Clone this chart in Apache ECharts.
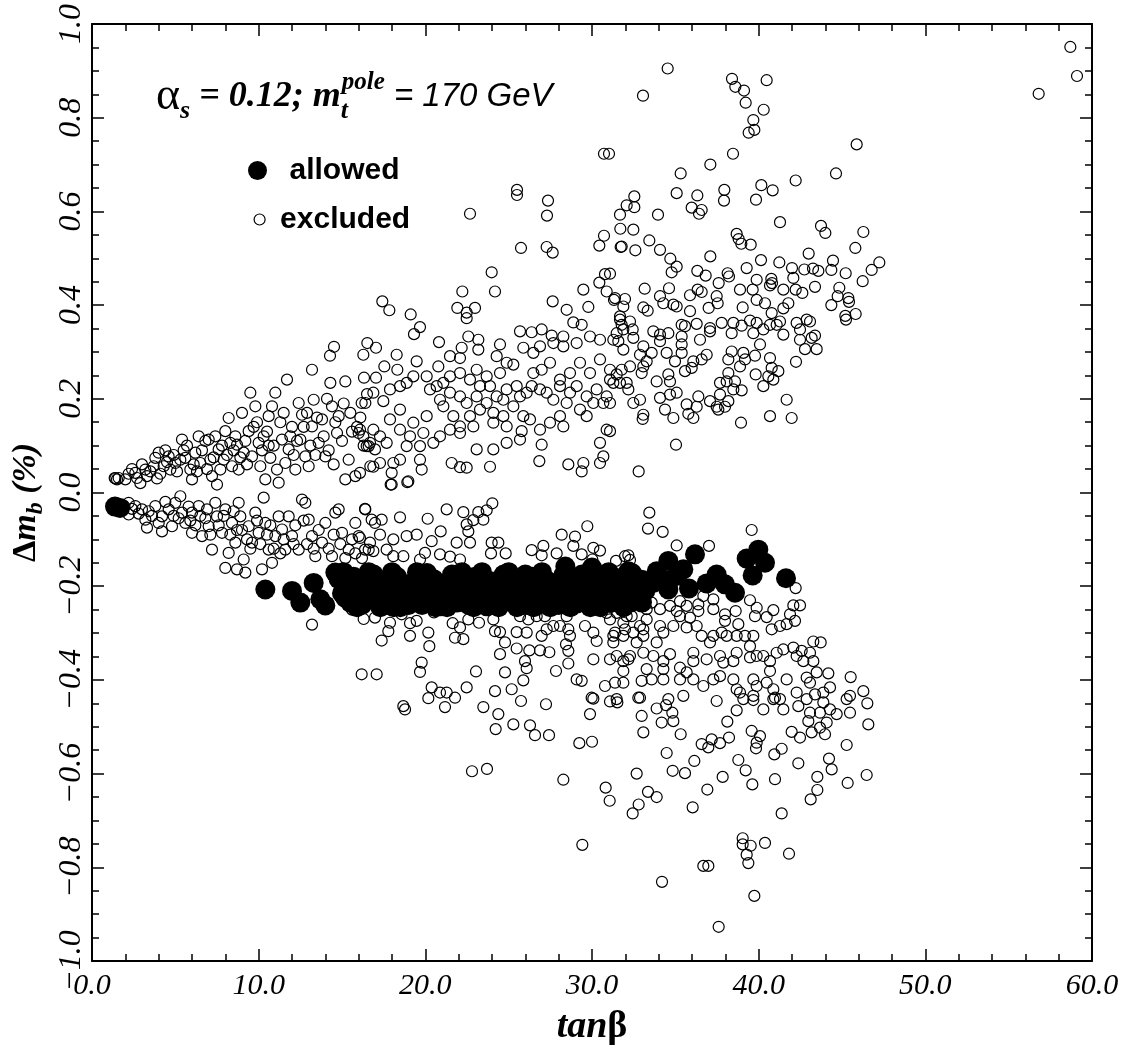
<!DOCTYPE html>
<html><head><meta charset="utf-8">
<script src="https://cdn.jsdelivr.net/npm/echarts/dist/echarts.min.js"></script>
<style>html,body{margin:0;padding:0;background:#fff}#c{width:1126px;height:1051px}</style>
</head><body><div id="c"></div>
<script>
// ---- axis settings (values) ----
const xTicks = [0, 10, 20, 30, 40, 50, 60];
const yTicks = [-1.0, -0.8, -0.6, -0.4, -0.2, 0.0, 0.2, 0.4, 0.6, 0.8, 1.0];

// ---- excluded points: upper branch ----
const excludedUpperLeft = [
[1.36,0.031],[1.4,0.03],[1.5,0.028],[1.6,0.031],[2.0,0.028],[2.6,0.042],[2.7,0.031],[3.2,0.049],[3.3,0.035],[3.7,0.056],[3.8,0.074],[4.0,0.085],[4.3,0.056],[4.6,0.077],[4.7,0.049],[5.0,0.063],[5.3,0.070],[5.4,0.113],[5.6,0.074],[5.9,0.049],[6.0,0.028],[6.2,0.085],[6.4,0.120],[6.5,0.063],[7.0,0.113],[7.1,0.070],[7.2,0.035],[7.5,0.017],[7.6,0.092],[7.7,0.049],[7.9,0.070],[8.0,0.131],[8.2,0.159],[8.3,0.106],[8.4,0.056],[8.7,0.102],[8.8,0.049],[9.0,0.170],[9.1,0.085],[9.4,0.131],[9.5,0.213],[9.6,0.077],[9.8,0.184],[10.0,0.106],[10.1,0.056],[10.3,0.120],[10.4,0.028],[10.6,0.163],[10.7,0.074],[10.8,0.184],[11.0,0.213],[11.1,0.049],[11.2,0.021],[11.4,0.113],[11.6,0.063],[11.8,0.092],[12.2,0.049],[12.4,0.191],[12.5,0.113],[12.6,0.166],[12.8,0.077],[13.0,0.056],[13.2,0.141],[13.3,0.198],[13.6,0.106],[13.8,0.156],[14.0,0.077],[14.3,0.234],[14.4,0.184],[14.7,0.127],[14.8,0.163],[15.2,0.237],[15.2,0.028],[15.4,0.070],[15.8,0.035],[16.0,0.127],[16.4,0.191],[16.6,0.099],[16.7,0.056],
[2.2,0.04],[2.9,0.02],[3.5,0.045],[4.1,0.04],[4.5,0.065],[5.1,0.045],[5.5,0.09],[6.1,0.06],[6.6,0.09],[6.9,0.05],[7.3,0.075],[7.8,0.1],[8.1,0.08],[8.6,0.12],[8.9,0.075],[9.2,0.11],[9.7,0.14],[10.2,0.09],[10.5,0.13],[10.9,0.1],[11.3,0.15],[11.9,0.12],[12.1,0.08],[12.7,0.14],[13.1,0.1],[13.5,0.16],[13.9,0.12],[14.2,0.09],[14.6,0.15],[15.0,0.11],[15.5,0.17],[15.9,0.14],[16.3,0.1],
[2.4,0.05],[3.0,0.06],[3.9,0.03],[4.4,0.09],[4.9,0.08],[5.7,0.1],[6.3,0.045],[6.8,0.11],[7.4,0.12],[8.5,0.09],[9.3,0.06],[9.9,0.15],[10.6,0.1],[11.5,0.17],[12.0,0.14],[12.3,0.11],[12.9,0.17],[13.4,0.08],[14.1,0.2],[14.5,0.06],[15.1,0.19],[15.6,0.13],[16.1,0.16],[16.5,0.21],
[14.28,0.292],[14.52,0.311],[13.2,0.262],[11.7,0.241]
];
const excludedUpperMid = [
[25.74,0.522],[27.28,0.524],[27.64,0.512],[30.44,0.527],[30.72,0.548],[31.78,0.525],[23.98,0.470],[24.18,0.429],[22.22,0.429],[21.92,0.394],[22.48,0.384],[22.48,0.372],[22.98,0.394],[17.42,0.408],[17.84,0.389],[19.12,0.380],[19.68,0.353],[19.32,0.338],[20.82,0.321],[16.52,0.319],[17.04,0.309],[16.28,0.294],[18.28,0.294],[19.48,0.280],[17.54,0.269],[16.32,0.245],[17.04,0.245],[18.32,0.262],[18.88,0.234],[17.88,0.220],[16.88,0.213],[16.18,0.191],[17.48,0.195],[18.48,0.227],[19.28,0.248],[20.08,0.248],[20.78,0.269],[20.28,0.220],[20.88,0.198],[20.08,0.163],[19.28,0.149],[18.48,0.177],[17.88,0.156],[16.88,0.134],[16.28,0.120],[17.28,0.120],[16.48,0.099],[16.98,0.092],[17.68,0.106],[18.48,0.134],[19.08,0.120],[19.68,0.099],[18.08,0.063],[16.88,0.055],[17.98,0.042],[18.98,0.024],[17.98,0.017],[19.78,0.049],[19.68,0.070],
[25.68,0.344],[26.38,0.342],[26.98,0.348],[27.58,0.335],[28.28,0.333],[28.88,0.363],[29.38,0.358],[29.48,0.433],[29.78,0.396],[28.48,0.390],[27.64,0.408],[30.44,0.448],[30.78,0.466],[30.88,0.429],[31.32,0.411],[31.68,0.369],[31.88,0.348],[31.28,0.326],[30.48,0.326],[29.88,0.333],[29.08,0.319],[28.28,0.312],[27.68,0.319],[26.88,0.312],[26.48,0.298],[25.88,0.309],[24.48,0.316],[24.28,0.291],[24.88,0.277],[25.28,0.273],[24.48,0.255],[23.68,0.248],[23.08,0.262],[22.68,0.241],[22.08,0.255],[21.48,0.248],[21.08,0.234],[20.68,0.227],[21.48,0.291],[22.08,0.287],[22.58,0.333],[23.18,0.326],[23.18,0.305],[22.18,0.309],[23.28,0.227],[23.88,0.227],[24.28,0.205],[24.88,0.220],[25.48,0.227],[26.08,0.213],[26.48,0.255],[26.98,0.262],[27.48,0.277],[28.08,0.241],[28.68,0.255],[29.28,0.277],[29.88,0.255],[30.48,0.284],[31.08,0.262],[32.08,0.234],[31.28,0.234],[30.88,0.205],[30.28,0.220],[29.68,0.205],[29.08,0.227],[28.68,0.213],[28.08,0.227],[27.68,0.198],[27.28,0.213],[26.88,0.220],[26.38,0.227],[25.68,0.205],[25.28,0.184],[24.68,0.198],[24.08,0.170],[23.68,0.191],[23.08,0.205],[22.48,0.191],[22.08,0.205],[21.48,0.213],[21.08,0.184],[21.68,0.163],[22.08,0.141],[22.68,0.163],[23.28,0.177],[24.08,0.149],[24.68,0.163],[25.88,0.163],[26.28,0.156],[26.88,0.134],[27.48,0.149],[28.08,0.163],[28.48,0.191],[29.28,0.177],[29.68,0.163],[30.08,0.191],[30.68,0.191],[30.88,0.134],[30.48,0.106],[30.68,0.077],[30.48,0.063],[29.48,0.063],[29.38,0.045],[28.58,0.060],[28.28,0.141],[26.98,0.102],[26.84,0.067],[25.78,0.131],[25.68,0.113],[24.88,0.141],[24.88,0.106],[24.08,0.092],[23.88,0.055],[23.08,0.092],[22.88,0.141],[22.08,0.127],[21.48,0.134],[20.88,0.120],[20.48,0.106],[19.88,0.127],[21.58,0.063],[22.08,0.054],[22.48,0.053],[18.88,0.099],[18.48,0.070],[17.28,0.063],[16.68,0.106],[16.08,0.134],[16.08,0.042],
[22.68,0.595],[25.5,0.646],[25.5,0.635],[27.3,0.591],[27.36,0.623]
];
const excludedUpperRight = [
[34.54,0.905],[33.06,0.847],[38.4,0.883],[38.6,0.866],[39.12,0.858],[40.48,0.880],[39.22,0.832],[40.3,0.817],[39.68,0.795],[39.74,0.774],[39.4,0.768],[45.88,0.743],[30.72,0.723],[31.02,0.723],[38.46,0.723],[37.1,0.700],[35.32,0.681],[44.64,0.681],[42.22,0.666],[40.16,0.656],[40.84,0.645],[39.84,0.625],[35.08,0.639],[36.32,0.634],[37.94,0.646],[37.92,0.623],[35.98,0.608],[36.58,0.603],[36.42,0.595],[33.96,0.593],[32.54,0.632],[32.08,0.613],[32.54,0.609],[31.68,0.593],[31.7,0.563],[32.48,0.561],[31.72,0.524],[32.6,0.517],[33.44,0.538],[34.08,0.518],[34.7,0.499],[35.08,0.482],[34.78,0.470],[37.1,0.504],[41.28,0.577],[43.74,0.569],[44.0,0.554],[46.28,0.556],[45.8,0.522],[38.68,0.552],[38.8,0.541],[38.96,0.531],[39.52,0.529],[43.0,0.510],[44.46,0.495],[47.24,0.491],[46.78,0.475],[46.24,0.451],[45.22,0.468],[44.36,0.475],[44.84,0.437],[44.74,0.419],[45.38,0.415],[45.42,0.407],[44.36,0.400],[45.82,0.381],[45.2,0.377],[40.14,0.496],[39.28,0.479],[41.24,0.491],[42.0,0.479],[42.74,0.476],[43.26,0.478],[43.58,0.473],[42.08,0.458],[40.76,0.456],[40.8,0.447],[40.68,0.442],[39.88,0.454],[38.14,0.468],[38.22,0.461],[37.6,0.447],[36.32,0.473],[36.82,0.463],[33.16,0.435],[34.62,0.436],[31.08,0.467],[38.88,0.433],[39.64,0.433],[41.48,0.433],[42.22,0.433],[42.62,0.426],[43.38,0.439],[36.34,0.433],[36.58,0.428],[35.88,0.421],[34.08,0.419],[34.28,0.404],[37.48,0.419],[37.54,0.404],[34.88,0.401],[35.08,0.397],[31.38,0.415],[31.98,0.413],[31.88,0.397],[33.08,0.395],[33.34,0.388],[35.88,0.387],[37.0,0.394],[39.04,0.395],[39.88,0.411],[40.38,0.404],[41.78,0.404],[41.48,0.393],[40.78,0.383],[42.88,0.369],[43.08,0.365],[31.68,0.376],[32.28,0.365],[32.44,0.348],[33.68,0.344],[34.08,0.337],[34.58,0.340],[35.38,0.358],[35.58,0.355],[36.28,0.360],[37.08,0.351],[37.08,0.344],[37.78,0.362],[38.48,0.362],[38.98,0.356],[39.48,0.367],[39.88,0.362],[40.68,0.358],[41.28,0.365],[42.28,0.362],[42.48,0.348],[43.38,0.335],
[31.78,0.358],[31.48,0.340],[31.58,0.323],[31.88,0.305],[32.48,0.330],[34.08,0.323],[35.38,0.333],[35.38,0.316],[35.38,0.298],[36.48,0.326],[38.38,0.340],[39.68,0.340],[40.28,0.348],[41.08,0.358],[41.48,0.337],[42.48,0.326],[43.18,0.330],[42.78,0.306],[43.48,0.306],[45.24,0.369],[33.08,0.312],[33.58,0.298],[32.88,0.294],[34.48,0.298],[34.98,0.280],[35.58,0.259],[36.08,0.280],[36.58,0.284],[36.88,0.294],[35.98,0.266],[38.38,0.301],[38.18,0.284],[39.08,0.298],[39.18,0.284],[38.88,0.269],[39.78,0.292],[40.08,0.316],[40.68,0.287],[40.78,0.266],[41.18,0.259],[40.58,0.248],[40.88,0.241],[40.28,0.227],[39.82,0.252],[42.24,0.279],[38.18,0.255],[38.08,0.237],[37.68,0.234],[38.58,0.237],[38.48,0.220],[38.98,0.218],[37.68,0.209],[37.48,0.183],[37.98,0.183],[38.18,0.195],[37.08,0.195],[37.58,0.177],[41.68,0.198],[41.98,0.159],[40.68,0.163],[38.94,0.149],[36.38,0.205],[36.28,0.183],[35.68,0.188],[35.78,0.168],[36.08,0.159],[34.88,0.159],[34.38,0.177],[35.08,0.213],[34.68,0.209],[34.08,0.202],[32.88,0.198],[32.48,0.191],[33.08,0.166],[33.04,0.157],[31.08,0.191],[31.08,0.131],[33.88,0.237],[34.68,0.237],[34.58,0.252],[32.18,0.220],[31.68,0.234],[31.48,0.252],[31.78,0.262],[32.28,0.269],[32.98,0.255],[33.08,0.269],[33.28,0.280],[31.08,0.241],[35.04,0.102],[32.8,0.045],
[56.8,0.851],[58.7,0.951],[59.1,0.889]
];

// ---- excluded points: lower branch ----
const excludedLowerLeft = [
[1.4,-0.03],[1.9,-0.028],[2.4,-0.035],
[2.2,-0.022],[2.2,-0.047],[2.6,-0.029],[3.0,-0.036],[3.2,-0.058],[3.3,-0.075],[3.8,-0.029],[4.2,-0.051],[4.2,-0.083],[4.6,-0.036],[4.8,-0.072],[5.0,-0.022],[5.3,-0.008],[5.4,-0.043],[5.6,-0.065],[6.0,-0.086],[6.0,-0.043],[6.4,-0.029],[6.6,-0.093],[6.9,-0.036],[7.0,-0.072],[7.2,-0.122],[7.4,-0.022],[7.5,-0.051],[7.8,-0.086],[8.0,-0.036],[8.0,-0.161],[8.2,-0.129],[8.4,-0.065],[8.6,-0.107],[8.7,-0.164],[8.8,-0.022],[8.9,-0.051],[9.1,-0.143],[9.2,-0.171],[9.4,-0.072],[9.6,-0.107],[9.8,-0.043],[10.0,-0.086],[10.2,-0.164],[10.3,-0.011],[10.4,-0.065],[10.6,-0.122],[10.8,-0.150],[11.0,-0.093],[11.2,-0.051],[11.4,-0.079],[11.6,-0.122],[11.8,-0.051],[12.0,-0.093],[12.4,-0.122],[12.6,-0.015],[12.8,-0.022],[13.0,-0.058],[13.2,-0.093],[13.4,-0.136],[13.8,-0.107],[14.0,-0.065],[14.4,-0.136],[14.6,-0.043],[14.8,-0.036],[15.0,-0.086],[15.4,-0.122],[15.8,-0.065],[16.0,-0.093],[16.4,-0.036],[16.6,-0.122],
[2.8,-0.045],[3.6,-0.05],[4.0,-0.065],[4.4,-0.02],[5.2,-0.055],[5.8,-0.03],[6.2,-0.07],[6.8,-0.055],[7.6,-0.07],[8.3,-0.09],[8.5,-0.04],[9.0,-0.08],[9.5,-0.12],[9.9,-0.06],[10.5,-0.09],[10.9,-0.12],[11.5,-0.1],[12.2,-0.07],[12.9,-0.11],[13.6,-0.08],[14.2,-0.12],[14.9,-0.11],[15.6,-0.1],[16.2,-0.14],
[3.4,-0.04],[4.9,-0.05],[5.9,-0.06],[6.5,-0.05],[7.1,-0.09],[7.9,-0.05],[8.7,-0.08],[9.3,-0.1],[10.1,-0.11],[10.7,-0.07],[11.3,-0.13],[12.1,-0.11],[12.7,-0.06],[13.3,-0.12],[14.5,-0.09],[15.2,-0.14],[15.8,-0.13],
[13.2,-0.282],[15.6,-0.25],[16.3,-0.27]
];
const excludedLowerMid = [
[17.92,0.017],[18.92,0.022],[16.38,-0.035],[16.78,-0.058],[16.98,-0.065],[17.38,-0.058],[18.48,-0.053],[20.14,-0.056],[21.28,-0.036],[22.28,-0.042],[23.18,-0.042],[23.68,-0.038],[24.02,-0.023],[23.48,-0.058],[22.88,-0.059],[22.48,-0.068],[22.58,-0.083],[20.92,-0.083],[20.38,-0.104],[19.48,-0.090],[18.88,-0.093],[18.08,-0.100],[17.28,-0.090],[16.68,-0.107],[16.08,-0.097],[21.88,-0.107],[22.68,-0.107],[23.98,-0.107],[24.38,-0.107],[24.82,-0.130],[23.94,-0.130],[22.08,-0.143],[21.48,-0.137],[20.88,-0.132],[19.98,-0.129],[19.68,-0.143],[18.68,-0.136],[18.08,-0.136],[17.68,-0.122],[16.88,-0.125],[16.38,-0.122],[26.38,-0.123],[27.08,-0.114],[26.98,-0.134],[27.88,-0.130],[28.18,-0.090],[28.98,-0.094],[28.88,-0.114],[29.38,-0.132],[29.72,-0.072],[30.02,-0.143],[30.48,-0.124],[30.08,-0.118],[31.98,-0.136],
[16.98,-0.267],[18.58,-0.260],[17.88,-0.278],[17.78,-0.296],[17.38,-0.316],[19.08,-0.279],[19.48,-0.274],[19.08,-0.306],[20.18,-0.299],[20.24,-0.328],[20.52,-0.256],[21.64,-0.279],[22.08,-0.288],[21.78,-0.310],[22.28,-0.313],[22.58,-0.271],[23.22,-0.278],[24.08,-0.271],[24.18,-0.296],[24.48,-0.298],[24.78,-0.320],[25.48,-0.298],[25.68,-0.264],[26.18,-0.271],[26.08,-0.299],[26.68,-0.264],[27.18,-0.264],[27.28,-0.292],[26.98,-0.306],[27.68,-0.285],[28.08,-0.285],[28.48,-0.264],[28.58,-0.292],[28.68,-0.306],[28.44,-0.324],[28.58,-0.338],[29.58,-0.285],[30.08,-0.299],[30.28,-0.317],[30.88,-0.257],[31.38,-0.299],[32.08,-0.264],[31.98,-0.292],
[24.48,-0.345],[25.48,-0.333],[26.24,-0.337],[26.88,-0.337],[27.44,-0.341],[25.98,-0.360],[26.08,-0.375],[25.88,-0.401],[24.78,-0.384],[24.18,-0.424],[25.18,-0.420],[25.74,-0.445],[27.24,-0.452],[26.28,-0.497],[26.58,-0.518],[27.42,-0.518],[25.28,-0.495],[24.22,-0.505],[24.38,-0.473],[23.48,-0.458],[23.04,-0.382],[22.48,-0.416],[21.78,-0.438],[21.18,-0.458],[21.28,-0.427],[20.88,-0.427],[20.38,-0.416],[20.18,-0.439],[19.78,-0.363],[19.68,-0.383],[18.68,-0.456],[18.78,-0.463],[17.08,-0.388],[16.18,-0.388],[27.84,-0.381],[28.58,-0.365],[29.08,-0.399],[29.38,-0.402],[30.08,-0.356],[30.08,-0.440],[30.78,-0.413],[31.38,-0.406],[31.88,-0.381],[32.18,-0.356],
[22.8,-0.595],[23.7,-0.59]
];
const excludedLowerRight = [
[33.44,-0.043],[33.36,-0.077],[34.24,-0.084],[35.08,-0.113],[37.02,-0.114],[39.58,-0.080],[31.44,-0.146],[32.18,-0.134],[32.28,-0.144],[42.22,-0.204],[39.48,-0.230],[39.88,-0.246],[40.88,-0.251],[42.08,-0.241],[42.48,-0.241],[38.62,-0.253],[39.78,-0.264],[40.48,-0.266],[41.88,-0.260],[42.18,-0.274],[40.78,-0.292],[41.28,-0.285],[41.68,-0.281],[36.68,-0.221],[37.28,-0.228],[37.28,-0.249],[36.38,-0.239],[36.38,-0.253],[35.68,-0.242],[35.28,-0.232],[35.08,-0.253],[34.68,-0.242],[34.08,-0.249],[33.58,-0.235],[33.28,-0.249],[33.28,-0.271],[32.88,-0.285],[32.38,-0.264],[31.88,-0.278],[31.48,-0.257],[31.08,-0.271],[37.98,-0.260],[37.98,-0.274],[38.78,-0.281],[39.18,-0.306],[39.48,-0.328],[39.68,-0.306],[38.68,-0.306],[38.08,-0.306],[37.78,-0.299],[37.28,-0.306],[37.08,-0.320],[36.58,-0.306],[36.28,-0.285],[35.68,-0.288],[35.88,-0.267],[35.28,-0.264],[34.88,-0.285],[34.08,-0.285],[34.28,-0.299],[33.88,-0.320],[33.08,-0.292],[33.08,-0.306],[32.68,-0.320],[32.48,-0.299],[31.88,-0.306],[31.28,-0.306],[31.28,-0.320],
[43.28,-0.318],[43.72,-0.320],[42.08,-0.331],[42.58,-0.338],[43.08,-0.342],[43.28,-0.360],[42.68,-0.360],[42.28,-0.349],[41.48,-0.335],[41.08,-0.342],[40.68,-0.360],[40.28,-0.349],[39.88,-0.349],[39.48,-0.352],[38.68,-0.342],[38.48,-0.360],[37.88,-0.363],[37.68,-0.349],[36.88,-0.356],[36.08,-0.342],[36.08,-0.360],[35.28,-0.374],[34.68,-0.345],[34.28,-0.360],[33.68,-0.349],[33.28,-0.377],[33.08,-0.342],[32.28,-0.349],[31.88,-0.360],[31.48,-0.349],[31.08,-0.356],
[44.18,-0.386],[45.52,-0.394],[46.28,-0.424],[46.52,-0.450],[45.28,-0.441],[44.28,-0.416],[43.88,-0.427],[43.48,-0.384],[42.88,-0.395],[43.08,-0.406],[42.28,-0.427],[41.68,-0.399],[40.68,-0.381],[40.48,-0.406],[40.88,-0.420],[40.98,-0.438],[39.68,-0.399],[39.88,-0.413],[39.68,-0.434],[39.08,-0.441],[38.48,-0.399],[38.68,-0.420],[37.68,-0.392],[37.28,-0.399],[37.48,-0.445],[36.68,-0.413],[36.08,-0.399],[35.68,-0.384],[35.28,-0.399],[35.48,-0.434],[34.58,-0.441],[34.28,-0.377],[34.28,-0.399],[33.58,-0.399],[32.98,-0.402],[32.88,-0.438],[31.88,-0.406],[31.48,-0.441],
[29.98,-0.438],[31.08,-0.446],[31.52,-0.448],[32.78,-0.438],[29.88,-0.473],[32.98,-0.477],[33.08,-0.512],[33.88,-0.461],[34.44,-0.454],[34.82,-0.470],[34.88,-0.488],[34.18,-0.491],[35.32,-0.516],[38.68,-0.465],[38.12,-0.489],[38.22,-0.523],[39.58,-0.509],[40.08,-0.520],[39.88,-0.534],[39.84,-0.546],[37.18,-0.527],[36.58,-0.537],[37.68,-0.535],[36.98,-0.544],[38.88,-0.427],[39.68,-0.443],[40.28,-0.463],[40.88,-0.441],[41.28,-0.441],[41.48,-0.463],[42.38,-0.456],[42.88,-0.441],[43.08,-0.470],[43.68,-0.470],[44.08,-0.491],[44.28,-0.463],[44.68,-0.473],[45.48,-0.470],[45.48,-0.434],[46.58,-0.495],[43.38,-0.431],[43.88,-0.448],[42.98,-0.488],[43.18,-0.512],[43.68,-0.502],[43.98,-0.516],[41.98,-0.511],[42.48,-0.523],[41.38,-0.547],[40.94,-0.559],[42.38,-0.578],[44.22,-0.568],[44.38,-0.591],[45.28,-0.539],[43.52,-0.607],[43.52,-0.635],[43.12,-0.655],[45.34,-0.620],[46.48,-0.603],[40.98,-0.612],[39.62,-0.623],[39.22,-0.593],[38.78,-0.571],[37.84,-0.607],[36.92,-0.634],[36.14,-0.573],[35.58,-0.599],[34.84,-0.594],[34.48,-0.556],[32.68,-0.600],[30.82,-0.630],[31.06,-0.658],[33.36,-0.639],[33.88,-0.650],[32.8,-0.666],[32.44,-0.685],[36.04,-0.672],[41.38,-0.685],[29.24,-0.535],[30.0,-0.532],[28.28,-0.613],[29.42,-0.752],[39.04,-0.738],[39.04,-0.751],[39.52,-0.754],[39.28,-0.773],[39.38,-0.791],[40.38,-0.748],[41.82,-0.771],[36.68,-0.797],[36.98,-0.797],[34.2,-0.831],[39.74,-0.861],[37.6,-0.927]
];

// ---- allowed points ----
const allowedLeft = [[1.38,-0.030],[1.68,-0.033],[10.4,-0.207],[12.0,-0.210],[12.5,-0.235],[13.3,-0.193],[13.7,-0.228],[14.0,-0.241],[14.6,-0.171]];
const allowedBand = [
[14.8,-0.185],[15.0,-0.215],[15.2,-0.225],[15.3,-0.2],[15.5,-0.235],[15.7,-0.18],[16.0,-0.21],[16.2,-0.24],[16.4,-0.19],[16.5,-0.205],[16.7,-0.225],[16.9,-0.175],[17.1,-0.205],[17.4,-0.238],[17.6,-0.19],[17.8,-0.2],[17.9,-0.22],[18.1,-0.245],[18.3,-0.18],[18.6,-0.205],[18.8,-0.232],[18.9,-0.215],[19.1,-0.195],[19.3,-0.22],[19.5,-0.17],[19.8,-0.24],[20.0,-0.2],[20.2,-0.228],[20.3,-0.205],[20.5,-0.185],[20.7,-0.213],[20.9,-0.243],[21.0,-0.222],[21.2,-0.195],[21.4,-0.222],[21.6,-0.175],[21.9,-0.235],[22.1,-0.205],[22.3,-0.19],[22.4,-0.21],[22.6,-0.24],[22.8,-0.215],[23.0,-0.18],[23.3,-0.228],[23.5,-0.2],[23.6,-0.22],[23.7,-0.243],[24.0,-0.19],[24.2,-0.218],[24.5,-0.235],[24.6,-0.2],[24.7,-0.175],[24.9,-0.205],[25.2,-0.228],[25.4,-0.19],[25.7,-0.215],[25.8,-0.2],[25.9,-0.24],[26.2,-0.2],[26.4,-0.18],[26.6,-0.225],[26.8,-0.19],[26.9,-0.205],[27.1,-0.238],[27.4,-0.19],[27.6,-0.215],[27.8,-0.21],[27.9,-0.232],[28.1,-0.198],[28.3,-0.175],[28.4,-0.158],[28.6,-0.22],[28.8,-0.205],[29.0,-0.2],[29.1,-0.237],[29.3,-0.19],[29.6,-0.213],[29.8,-0.228],[30.0,-0.16],[30.1,-0.2],[30.3,-0.175],[30.4,-0.21],[30.6,-0.222],[30.8,-0.19],[31.1,-0.236],[31.3,-0.207],[31.5,-0.21],[31.6,-0.183],[31.8,-0.22],[32.1,-0.2],[32.3,-0.235],[32.5,-0.21],[32.6,-0.19],[33.2,-0.21],[32.9,-0.2],
[15.1,-0.17],[15.9,-0.245],[16.6,-0.17],[17.3,-0.245],[18.0,-0.17],[18.5,-0.245],[19.0,-0.24],[19.6,-0.21],[20.1,-0.172],[20.6,-0.245],[21.3,-0.245],[21.8,-0.205],[22.2,-0.17],[22.9,-0.245],[23.4,-0.17],[23.9,-0.21],[24.4,-0.245],[25.0,-0.17],[25.5,-0.245],[26.0,-0.175],[26.5,-0.245],[27.0,-0.17],[27.5,-0.245],[28.0,-0.24],[28.7,-0.245],[29.4,-0.175],[29.9,-0.245],[30.5,-0.245],[31.0,-0.17],[31.9,-0.245],[32.4,-0.172],[33.0,-0.235]
];
const allowedRight = [
[36.18,-0.132],[34.58,-0.146],[35.48,-0.164],[33.88,-0.168],[32.18,-0.168],[32.98,-0.186],[33.68,-0.193],[34.58,-0.207],[34.28,-0.186],[35.08,-0.178],[35.82,-0.205],[36.88,-0.194],[37.48,-0.175],[37.98,-0.196],[38.58,-0.214],[39.28,-0.141],[39.98,-0.122],[40.38,-0.150],[39.64,-0.177],[41.64,-0.183],[31.48,-0.186],[31.68,-0.214],[32.28,-0.207],[32.68,-0.228]
];

const excluded = [].concat(excludedUpperLeft, excludedUpperMid, excludedUpperRight, excludedLowerLeft, excludedLowerMid, excludedLowerRight);
const allowed = [].concat(allowedLeft, allowedBand, allowedRight);

const serif = '"Liberation Serif", "Times New Roman", serif';
const sans = '"Liberation Sans", Arial, sans-serif';
const fmtY = v => (Math.abs(v) < 1e-9 ? '0.0' : (v < 0 ? '\u2212' + (-v).toFixed(1) : v.toFixed(1)));

const tickStyle = {color: '#000', width: 1.5};
const baseX = {
  type: 'value', min: xTicks[0], max: xTicks[xTicks.length - 1], interval: xTicks[1] - xTicks[0],
  axisLine: {show: true, onZero: false, lineStyle: {color: '#000', width: 2}},
  axisTick: {show: true, inside: true, length: 12, lineStyle: tickStyle},
  minorTick: {show: true, splitNumber: 5, length: 7, lineStyle: tickStyle},
  splitLine: {show: false}
};
const baseY = {
  type: 'value', min: yTicks[0], max: yTicks[yTicks.length - 1], interval: 0.2,
  axisLine: {show: true, onZero: false, lineStyle: {color: '#000', width: 2}},
  axisTick: {show: true, inside: true, length: 12, lineStyle: tickStyle},
  minorTick: {show: true, splitNumber: 4, length: 7, lineStyle: tickStyle},
  splitLine: {show: false}
};

const chart = echarts.init(document.getElementById('c'), null, {renderer: 'canvas'});
chart.setOption({
  animation: false,
  backgroundColor: '#fff',
  grid: {left: 92, right: 34, top: 24, bottom: 89, containLabel: false},
  xAxis: [
    Object.assign({}, baseX, {
      position: 'bottom',
      axisLabel: {show: true, margin: 10, fontFamily: serif, fontStyle: 'italic', fontSize: 30, color: '#000',
        formatter: v => v.toFixed(1)},
      name: '{t|tan}{g|β}', nameLocation: 'middle', nameGap: 46,
      nameTextStyle: {rich: {
        t: {fontFamily: serif, fontStyle: 'italic', fontWeight: 'bold', fontSize: 38, color: '#000', lineHeight: 40},
        g: {fontFamily: serif, fontWeight: 'bold', fontSize: 38, color: '#000', lineHeight: 40}
      }}
    }),
    Object.assign({}, baseX, {position: 'top', axisLabel: {show: false}})
  ],
  yAxis: [
    Object.assign({}, baseY, {
      position: 'left',
      axisLabel: {show: true, rotate: 90, margin: 4, fontFamily: serif, fontStyle: 'italic', fontSize: 32, color: '#000',
        formatter: fmtY},
      name: '{d|\u0394}{m|m}{b|b}{r| (%)}', nameLocation: 'middle', nameGap: 44, nameRotate: 90,
      nameTextStyle: {padding: [0, 20, 0, 0], rich: {
        d: {fontFamily: serif, fontWeight: 'bold', fontSize: 34, color: '#000', lineHeight: 44},
        m: {fontFamily: serif, fontStyle: 'italic', fontWeight: 'bold', fontSize: 34, color: '#000', lineHeight: 44},
        b: {fontFamily: serif, fontStyle: 'italic', fontWeight: 'bold', fontSize: 24, color: '#000', lineHeight: 20, verticalAlign: 'bottom'},
        r: {fontFamily: serif, fontStyle: 'italic', fontWeight: 'bold', fontSize: 34, color: '#000', lineHeight: 44}
      }}
    }),
    Object.assign({}, baseY, {position: 'right', axisLabel: {show: false}})
  ],
  legend: [
    {data: ['allowed'], left: 248, top: 155.5, padding: 0, orient: 'vertical', selectedMode: false,
      icon: 'circle', itemWidth: 54, itemHeight: 19,
      textStyle: {fontFamily: sans, fontWeight: 'bold', fontSize: 30, color: '#000'}},
    {data: ['excluded'], left: 253.5, top: 204.5, padding: 0, orient: 'vertical', selectedMode: false,
      icon: 'circle', itemWidth: 31, itemHeight: 11,
      itemStyle: {borderWidth: 1.2, borderColor: '#000', color: 'rgba(0,0,0,0)'},
      textStyle: {fontFamily: sans, fontWeight: 'bold', fontSize: 30, color: '#000'}}
  ],
  graphic: [{
    type: 'text', x: 156, y: 97, silent: true,
    style: {
      text: '{a|α}{s|s}{m| = 0.12; m}{t|t}{p|pole}{g| = 170 GeV}',
      align: 'left', verticalAlign: 'middle',
      rich: {
        a: {fontFamily: serif, fontSize: 46, fill: '#000', lineHeight: 54},
        s: {fontFamily: serif, fontStyle: 'italic', fontWeight: 'bold', fontSize: 26, fill: '#000', lineHeight: 26, verticalAlign: 'bottom'},
        m: {fontFamily: serif, fontStyle: 'italic', fontWeight: 'bold', fontSize: 36, fill: '#000', lineHeight: 54},
        t: {fontFamily: serif, fontStyle: 'italic', fontWeight: 'bold', fontSize: 26, fill: '#000', lineHeight: 26, verticalAlign: 'bottom', width: 1},
        p: {fontFamily: serif, fontStyle: 'italic', fontWeight: 'bold', fontSize: 25, fill: '#000', lineHeight: 24, verticalAlign: 'top'},
        g: {fontFamily: sans, fontStyle: 'italic', fontSize: 33, fill: '#000', lineHeight: 54}
      }
    }
  }],
  series: [
    {name: 'excluded', type: 'scatter', symbol: 'circle', symbolSize: 11, data: excluded, silent: true, z: 2,
      itemStyle: {color: 'rgba(0,0,0,0)', borderColor: '#000', borderWidth: 1.2, opacity: 1}},
    {name: 'allowed', type: 'scatter', symbol: 'circle', symbolSize: 20, data: allowed, silent: true, z: 3,
      itemStyle: {color: '#000', opacity: 1}}
  ]
});
</script></body></html>
